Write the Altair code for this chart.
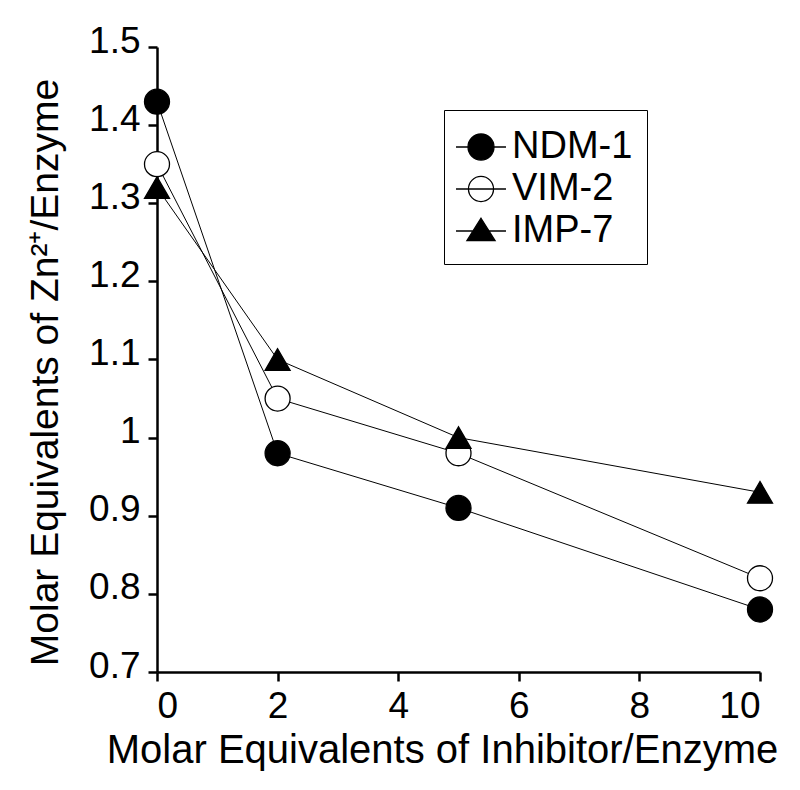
import altair as alt
import pandas as pd

# ---- data ----
x_vals = [0, 2, 5, 10]
ndm1 = [1.43, 0.98, 0.91, 0.78]
vim2 = [1.35, 1.05, 0.98, 0.82]
imp7 = [1.32, 1.10, 1.00, 0.93]
series_names = ["NDM-1", "VIM-2", "IMP-7"]
x_ticks = [0, 2, 4, 6, 8, 10]
y_ticks = [0.7, 0.8, 0.9, 1.0, 1.1, 1.2, 1.3, 1.4, 1.5]

rows = []
for name, vals in zip(series_names, [ndm1, vim2, imp7]):
    for xv, yv in zip(x_vals, vals):
        rows.append({"x": xv, "y": yv, "series": name})
df = pd.DataFrame(rows)

FONT = "Liberation Sans"

fills = ["black", "white", "black"]
strokes = ["black", "black", "black"]
point_shapes = ["circle", "circle", "triangle-up"]
# legend symbols: short line with the marker on it (unit box = 44 px)
legend_paths = [
    "M-1.136,0H1.136M0.59,0A0.59,0.59,0,1,1,-0.59,0A0.59,0.59,0,1,1,0.59,0Z",
    "M-1.136,0H1.136M0.57,0A0.57,0.57,0,1,1,-0.57,0A0.57,0.57,0,1,1,0.57,0Z",
    "M-1.136,0H1.136M0,-0.58L0.64,0.44L-0.64,0.44Z",
]

AX = dict(domainColor="black", domainWidth=2.5, tickColor="black", tickWidth=2.5,
          tickSize=9, labelFont=FONT, labelFontSize=37, labelColor="black",
          titleFont=FONT, titleFontSize=39, titleColor="black",
          titleFontWeight="normal", grid=False)

x_enc = alt.X(
    "x:Q",
    scale=alt.Scale(domain=[0, 10], nice=False, zero=False),
    axis=alt.Axis(
        values=x_ticks, format="d",
        title="Molar Equivalents of Inhibitor/Enzyme",
        titleX=285, titleY=90, titleBaseline="alphabetic", titleAlign="center",
        labelPadding=7, titleFontSize=40, **{k: v for k, v in AX.items() if k != "titleFontSize"},
    ),
)
y_enc = alt.Y(
    "y:Q",
    scale=alt.Scale(domain=[0.7, 1.5], nice=False, zero=False),
    axis=alt.Axis(
        values=y_ticks, format="~g",
        title="Molar Equivalents of Zn²⁺/Enzyme",
        titleX=-112, titleY=325, titleAngle=270,
        titleBaseline="middle", titleAlign="center",
        labelPadding=8, labelOffset=-6, **AX,
    ),
)

lines = alt.Chart(df).mark_line(color="black", strokeWidth=1).encode(
    x=x_enc, y=y_enc, detail="series:N", order="x:Q"
)

point_layers = []
for name, shp, fc in zip(series_names, point_shapes, fills):
    point_layers.append(
        alt.Chart(df)
        .transform_filter(alt.datum.series == name)
        .mark_point(shape=shp, filled=True, fill=fc, opacity=1,
                    stroke="black", strokeWidth=1.3, size=625)
        .encode(x=x_enc, y=y_enc)
    )

legend = alt.Legend(
    title=None, orient="none", legendX=287, legendY=63, direction="vertical",
    strokeColor="black", fillColor="white", padding=14,
    labelFont=FONT, labelFontSize=38, labelColor="black", labelOffset=8,
    symbolSize=1936, symbolStrokeWidth=1.3,
    symbolOpacity=1, rowPadding=0,
)

legend_layer = alt.Chart(df).transform_filter("false").mark_point(
    filled=True, opacity=1, strokeWidth=1.3
).encode(
    x=x_enc,
    y=y_enc,
    shape=alt.Shape("series:N", scale=alt.Scale(domain=series_names, range=legend_paths), legend=legend),
    fill=alt.Fill("series:N", scale=alt.Scale(domain=series_names, range=fills), legend=legend),
    stroke=alt.Stroke("series:N", scale=alt.Scale(domain=series_names, range=strokes), legend=legend),
)

chart = (
    alt.layer(lines, *point_layers, legend_layer)
    .properties(
        width=603, height=625,
        autosize=alt.AutoSizeParams(type="none"),
        padding={"left": 149, "top": 39, "right": 32, "bottom": 110},
        background="white",
    )
    .configure_view(stroke=None)
    .configure_axis(**AX)
)

chart.save("out.html", embed_options={"renderer": "svg", "actions": False})
